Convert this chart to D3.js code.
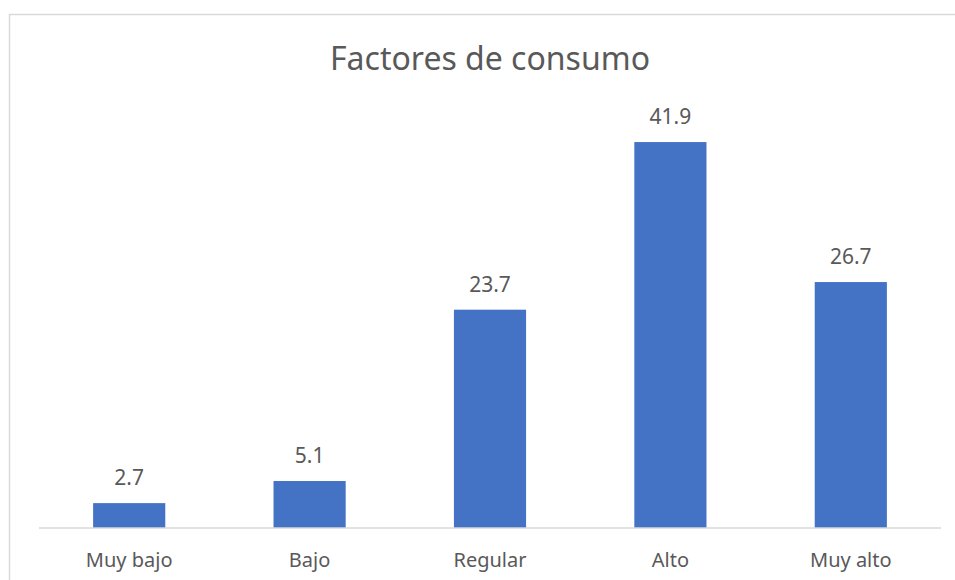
<!DOCTYPE html>
<html>
<head>
<meta charset="utf-8">
<script src="https://cdn.jsdelivr.net/npm/d3@7"></script>
<style>
  body { margin: 0; background: #fff; }
  text { font-family: "Noto Sans", "Open Sans", sans-serif; fill: #595959; }
</style>
</head>
<body>
<div id="wrapper"></div>
<script>
const categories = ["Muy bajo", "Bajo", "Regular", "Alto", "Muy alto"]
const values = [2.7, 5.1, 23.7, 41.9, 26.7]
const valueLabels = ["2.7", "5.1", "23.7", "41.9", "26.7"]

const width = 955
const height = 580
const margin = { top: 113.5, right: 14, bottom: 52, left: 39 }

const svg = d3.select("#wrapper").append("svg")
  .attr("width", width)
  .attr("height", height)

// chart frame
svg.append("rect")
  .attr("x", 9.5)
  .attr("y", 14.5)
  .attr("width", width + 10)
  .attr("height", height + 10)
  .attr("fill", "none")
  .attr("stroke", "#d9d9d9")
  .attr("stroke-width", 1.5)

const xScale = d3.scaleBand()
  .domain(categories)
  .range([margin.left, width - margin.right])
  .paddingInner(0.6)
  .paddingOuter(0.3)

const yScale = d3.scaleLinear()
  .domain([0, 45])
  .range([height - margin.bottom, margin.top])

const data = categories.map((c, i) => ({ cat: c, val: values[i], label: valueLabels[i] }))

// bars
svg.selectAll(".bar")
  .data(data)
  .enter().append("rect")
    .attr("class", "bar")
    .attr("x", d => xScale(d.cat))
    .attr("y", d => yScale(d.val))
    .attr("width", xScale.bandwidth())
    .attr("height", d => yScale(0) - yScale(d.val))
    .attr("fill", "#4472c4")

// value labels
svg.selectAll(".val")
  .data(data)
  .enter().append("text")
    .attr("class", "val")
    .attr("x", d => xScale(d.cat) + xScale.bandwidth() / 2)
    .attr("y", d => yScale(d.val) - 18)
    .attr("text-anchor", "middle")
    .style("font-size", "21px")
    .text(d => d.label)

// x axis
const xAxis = svg.append("g")
  .attr("transform", `translate(0,${yScale(0)})`)
  .call(d3.axisBottom(xScale).tickSize(0).tickPadding(25).tickSizeOuter(0))

xAxis.select(".domain")
  .attr("stroke", "#d9d9d9")
  .attr("stroke-width", 1.5)
  .attr("d", `M${margin.left},0H${width - margin.right}`)

xAxis.selectAll("text")
  .style("font-size", "20px")
  .style("font-family", "\"Noto Sans\", sans-serif")
  .attr("fill", "#595959")

// title
svg.append("text")
  .attr("x", 490)
  .attr("y", 70)
  .attr("text-anchor", "middle")
  .style("font-size", "32px")
  .text("Factores de consumo")
</script>
</body>
</html>
